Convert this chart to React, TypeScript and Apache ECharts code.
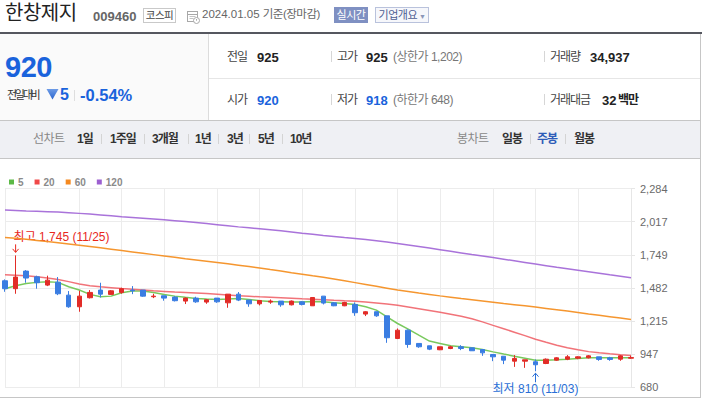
import React, { useEffect, useRef } from 'react';
import * as echarts from 'echarts';

// ---------- data ----------
const dates = [
  '2022.11.18','2022.11.25','2022.12.02','2022.12.09','2022.12.16','2022.12.23','2022.12.30',
  '2023.01.06','2023.01.13','2023.01.20','2023.01.27','2023.02.03','2023.02.10','2023.02.17','2023.02.24',
  '2023.03.03','2023.03.10','2023.03.17','2023.03.24','2023.03.31','2023.04.07','2023.04.14','2023.04.21','2023.04.28',
  '2023.05.05','2023.05.12','2023.05.19','2023.05.26','2023.06.02','2023.06.09','2023.06.16','2023.06.23','2023.06.30',
  '2023.07.07','2023.07.14','2023.07.21','2023.07.28','2023.08.04','2023.08.11','2023.08.18','2023.08.25',
  '2023.09.01','2023.09.08','2023.09.15','2023.09.22','2023.09.29','2023.10.06','2023.10.13','2023.10.20','2023.10.27',
  '2023.11.03','2023.11.10','2023.11.17','2023.11.24','2023.12.01','2023.12.08','2023.12.15','2023.12.22','2023.12.29',
  '2024.01.05',
];
const opens = [1540,1476,1618,1572,1505,1529,1424,1330,1403,1465,1430,1446,1465,1465,1411,1419,1408,1376,1400,1368,1400,1362,1432,1384,1354,1368,1376,1346,1370,1338,1416,1362,1338,1349,1271,1290,1257,1074,1141,1034,1015,983,993,1007,999,985,945,931,891,891,886,872,899,907,915,918,926,918,907,915];
const closes = [1476,1570,1562,1524,1545,1435,1330,1416,1446,1432,1459,1476,1459,1416,1416,1400,1379,1400,1370,1387,1370,1432,1384,1354,1381,1376,1346,1376,1349,1405,1360,1338,1365,1282,1290,1257,1080,1141,1026,1007,988,1007,1007,993,975,958,926,899,913,902,862,907,918,926,926,934,905,905,934,920];
const lows = [1451,1435,1524,1476,1497,1424,1322,1290,1397,1405,1427,1435,1432,1411,1400,1379,1373,1352,1362,1354,1362,1322,1376,1330,1341,1354,1330,1341,1341,1338,1349,1335,1335,1257,1255,1249,1039,1069,999,999,980,980,988,980,975,934,891,867,845,837,810,867,894,899,907,913,894,894,894,912];
const highs = [1551,1745,1626,1581,1581,1570,1457,1459,1465,1524,1465,1484,1497,1465,1435,1419,1416,1405,1411,1392,1400,1432,1449,1384,1381,1389,1376,1381,1376,1405,1416,1368,1370,1365,1295,1290,1257,1155,1147,1034,1015,1007,1015,1020,999,985,945,931,940,902,905,913,923,940,931,940,926,926,940,934];

const ma5 = [1475,1500,1518,1527,1532,1527,1492,1465,1430,1411,1416,1443,1457,1457,1446,1430,1416,1406,1397,1392,1389,1392,1397,1389,1379,1373,1371,1368,1368,1373,1370,1362,1357,1349,1330,1303,1249,1195,1150,1101,1053,1034,1015,1007,999,985,966,948,931,915,899,899,902,907,913,918,918,918,918,918];
const ma20 = [1588,1585,1580,1572,1563,1551,1533,1514,1500,1491,1484,1477,1471,1465,1459,1454,1449,1445,1441,1437,1431,1425,1420,1415,1410,1406,1402,1398,1394,1391,1387,1382,1378,1375,1369,1361,1352,1343,1329,1315,1300,1285,1269,1253,1233,1208,1180,1153,1125,1097,1068,1043,1020,1000,983,968,958,950,943,937];
const ma60 = [1890,1883,1875,1866,1857,1847,1837,1827,1817,1806,1795,1784,1773,1762,1751,1740,1729,1718,1708,1698,1688,1677,1666,1655,1643,1630,1618,1605,1593,1580,1568,1555,1540,1525,1510,1495,1480,1465,1453,1441,1430,1418,1407,1396,1386,1376,1366,1356,1347,1338,1328,1317,1306,1295,1284,1272,1261,1250,1239,1228];
const ma120 = [2111,2108,2104,2101,2098,2095,2090,2084,2078,2071,2064,2057,2051,2045,2039,2032,2025,2018,2010,2002,1993,1984,1975,1967,1959,1951,1943,1934,1924,1915,1906,1898,1889,1881,1873,1863,1852,1840,1828,1816,1804,1791,1778,1765,1752,1740,1727,1714,1701,1688,1675,1662,1649,1637,1625,1613,1601,1588,1576,1564];

const yTicks = [680, 947.333, 1214.667, 1482, 1749.333, 2016.667, 2284];
const maNames = ['5', '20', '60', '120'];
const maColors = ['#72c654', '#ef5b62', '#f49024', '#a46bd8'];
const legendColors = ['#5cb946', '#f04848', '#f5891f', '#9c5fd0'];

const stockName = '한창제지';
const stockCode = '009460';
const market = '코스피';
const asOf = '2024.01.05';
const price = '920';
const diff = '5';
const diffPct = '-0.54%';
const infoRow1 = [
  { label: '전일', value: '925', blue: false, extra: '' },
  { label: '고가', value: '925', blue: false, extra: '(상한가 1,202)' },
  { label: '거래량', value: '34,937', blue: false, extra: '' },
];
const infoRow2 = [
  { label: '시가', value: '920', blue: true, extra: '' },
  { label: '저가', value: '918', blue: true, extra: '(하한가 648)' },
  { label: '거래대금', value: '32', blue: false, extra: '백만' },
];
const lineTabs = ['1일', '1주일', '3개월', '1년', '3년', '5년', '10년'];
const candleTabs = ['일봉', '주봉', '월봉'];

// ---------- helpers ----------
const FONT = '"Liberation Sans", Arial, "Noto Sans CJK KR", sans-serif';
const BLUE = '#1a63dc';

function T(props: any) {
  const { x, y, s = 12, c = '#333', b = false, ls = 0, children } = props;
  return (
    <div
      style={{
        position: 'absolute', left: x, top: y, transform: 'translateY(-50%)',
        fontSize: s, color: c, fontWeight: b ? 700 : 400, letterSpacing: ls,
        lineHeight: 1, whiteSpace: 'nowrap', fontFamily: FONT,
      }}
    >
      {children}
    </div>
  );
}

function V(props: any) {
  const { x, y, h = 10, c = '#d9d9d9' } = props;
  return <div style={{ position: 'absolute', left: x, top: y - h / 2, width: 1, height: h, background: c }} />;
}

function Chart() {
  const ref = useRef<HTMLDivElement>(null);
  useEffect(() => {
    if (!ref.current) return;
    const chart = echarts.init(ref.current, null, { renderer: 'svg' });
    const candle = dates.map((_, i) => [opens[i], closes[i], lows[i], highs[i]]);
    const maData = [ma5, ma20, ma60, ma120];
    const option: any = {
      animation: false,
      legend: {
        data: maNames,
        left: 4,
        top: 14,
        icon: 'rect',
        itemWidth: 5,
        itemHeight: 5,
        itemGap: 11,
        selectedMode: false,
        textStyle: { color: '#8a8a8a', fontSize: 10, fontWeight: 'bold', fontFamily: FONT, padding: [0, 0, 0, -1] },
      },
      color: legendColors,
      grid: { left: 5, right: 69, top: 30.6, bottom: 9.7 },
      xAxis: {
        type: 'category',
        data: dates,
        boundaryGap: false,
        axisLine: { show: false },
        axisTick: { show: false },
        axisLabel: { show: false },
        splitLine: {
          show: true,
          interval: (i: number) => {
            if (i === 0) return true;
            if (i < 4) return false;
            return dates[i].slice(5, 7) !== dates[i - 1].slice(5, 7);
          },
          lineStyle: { color: '#ececec', width: 1 },
        },
      },
      yAxis: {
        type: 'value',
        position: 'right',
        min: 680,
        max: 2284,
        scale: true,
        axisLine: { show: true, lineStyle: { color: '#e6e6e6' } },
        axisTick: { show: true, length: 4, lineStyle: { color: '#e6e6e6' }, customValues: yTicks },
        axisLabel: {
          customValues: yTicks,
          margin: 9,
          color: '#6a6a6a',
          fontSize: 11,
          fontFamily: FONT,
          formatter: (v: number) => Math.round(v).toLocaleString('en-US'),
        },
        splitLine: { show: true, lineStyle: { color: '#ececec', width: 1 } },
      },
      series: [
        ...maNames.map((n, k) => ({
          name: n,
          type: 'line',
          data: maData[k],
          symbol: 'none',
          silent: true,
          z: 2,
          itemStyle: { color: legendColors[k] },
          lineStyle: { color: maColors[k], width: 1.5, opacity: k === 1 ? 0.85 : 0.95 },
        })),
        {
          name: 'candle',
          type: 'candlestick',
          data: candle,
          barWidth: 5,
          clip: false,
          z: 3,
          itemStyle: {
            color: '#e22c27',
            color0: '#3a7de2',
            borderColor: '#e22c27',
            borderColor0: '#3a7de2',
            borderWidth: 1,
          },
        },
      ],
    };
    chart.setOption(option);

    // annotations for highest / lowest points
    let hi = 0, lo = 0;
    highs.forEach((v, i) => { if (v > highs[hi]) hi = i; });
    lows.forEach((v, i) => { if (v < lows[lo]) lo = i; });
    const md = (d: string) => d.slice(5, 7) + '/' + d.slice(8, 10);
    const [hx, hy] = chart.convertToPixel({ gridIndex: 0 }, [hi, highs[hi]]) as number[];
    const [lx, ly] = chart.convertToPixel({ gridIndex: 0 }, [lo, lows[lo]]) as number[];
    const RED = '#e8271c';
    const LB = '#2a6fd6';
    chart.setOption({
      graphic: [
        {
          type: 'text', x: hx - 2, y: hy - 18,
          style: { text: `최고 ${highs[hi].toLocaleString('en-US')} (${md(dates[hi])})`, fill: RED, fontSize: 12, fontFamily: FONT, verticalAlign: 'middle', align: 'left' },
        },
        { type: 'line', shape: { x1: hx, y1: hy - 11, x2: hx, y2: hy - 3 }, style: { stroke: RED, lineWidth: 1 } },
        { type: 'polyline', shape: { points: [[hx - 3, hy - 6.5], [hx, hy - 3], [hx + 3, hy - 6.5]] }, style: { stroke: RED, lineWidth: 1, fill: 'none' } },
        {
          type: 'text', x: lx, y: ly + 18,
          style: { text: `최저 ${lows[lo].toLocaleString('en-US')} (${md(dates[lo])})`, fill: LB, fontSize: 12, fontFamily: FONT, verticalAlign: 'middle', align: 'center' },
        },
        { type: 'line', shape: { x1: lx, y1: ly + 2, x2: lx, y2: ly + 11 }, style: { stroke: LB, lineWidth: 1 } },
        { type: 'polyline', shape: { points: [[lx - 3, ly + 5.5], [lx, ly + 2], [lx + 3, ly + 5.5]] }, style: { stroke: LB, lineWidth: 1, fill: 'none' } },
      ],
    });
    return () => chart.dispose();
  }, []);
  return <div ref={ref} style={{ position: 'absolute', left: 0, top: 158, width: 700, height: 239 }} />;
}

export default function App() {
  useEffect(() => {
    document.body.style.margin = '0';
  }, []);
  const sepXs = [101, 144, 188, 218, 249, 282];
  const tabXs = [77, 110, 152, 195, 227, 258, 290];
  const ctabXs = [502, 537, 574];
  return (
    <div style={{ position: 'relative', width: 702, height: 399, overflow: 'hidden', background: '#fff', fontFamily: FONT }}>
      {/* title row */}
      <T x={5} y={13} s={20} c="#222" ls={-0.5}>{stockName}</T>
      <T x={93} y={15.5} s={13} c="#666" b>{stockCode}</T>
      <div style={{ position: 'absolute', left: 143, top: 8, width: 31, height: 13, border: '1px solid #c9c9c9', fontSize: 10.5, color: '#444', lineHeight: '13px', textAlign: 'center', fontFamily: FONT, letterSpacing: -0.5 }}>{market}</div>
      <svg style={{ position: 'absolute', left: 187, top: 10 }} width={13} height={14} viewBox="0 0 13 14">
        <rect x={0.5} y={1.5} width={10} height={10} fill="none" stroke="#a8a8a8" />
        <line x1={0.5} y1={4.5} x2={10.5} y2={4.5} stroke="#a8a8a8" />
        <line x1={2.5} y1={6.5} x2={8.5} y2={6.5} stroke="#c4c4c4" />
        <line x1={2.5} y1={8.5} x2={6.5} y2={8.5} stroke="#c4c4c4" />
        <circle cx={9.5} cy={10.5} r={3} fill="#fff" stroke="#a8a8a8" />
        <line x1={9.5} y1={9} x2={9.5} y2={10.7} stroke="#a8a8a8" />
      </svg>
      <T x={202} y={15} s={11.5} c="#666">{asOf} <span style={{ letterSpacing: -0.5 }}>기준(장마감)</span></T>
      <div style={{ position: 'absolute', left: 334, top: 7, width: 34, height: 16, background: '#7f90c2', color: '#fff', fontSize: 11, lineHeight: '16px', textAlign: 'center', fontFamily: FONT, letterSpacing: -0.5 }}>실시간</div>
      <div style={{ position: 'absolute', left: 375, top: 7, width: 52, height: 14, border: '1px solid #b9c2dc', background: '#f6f7fb', color: '#4e5e92', fontSize: 11, lineHeight: '14px', textAlign: 'center', fontFamily: FONT, letterSpacing: -0.5 }}>기업개요<span style={{ fontSize: 7, color: '#8a96b8', marginLeft: 2 }}>▼</span></div>

      {/* dark rule */}
      <div style={{ position: 'absolute', left: 0, top: 32, width: 702, height: 2, background: '#55575f' }} />

      {/* price panel */}
      <div style={{ position: 'absolute', left: 0, top: 34, width: 208, height: 86, background: '#fafafa', borderRight: '1px solid #dcdcdc' }} />
      <T x={5} y={67} s={29} c={BLUE} b ls={-0.5}>{price}</T>
      <T x={7} y={95} s={11} c="#333" ls={-2.3}>전일대비</T>
      <svg style={{ position: 'absolute', left: 46, top: 88 }} width={13} height={12} viewBox="0 0 13 12">
        <defs>
          <linearGradient id="tg" x1="0" y1="0" x2="0" y2="1">
            <stop offset="0" stopColor="#6d9be6" />
            <stop offset="1" stopColor="#2a66cf" />
          </linearGradient>
        </defs>
        <polygon points="0.5,1 12.5,1 6.5,11.5" fill="url(#tg)" />
      </svg>
      <T x={60} y={94.5} s={16} c={BLUE} b>{diff}</T>
      <V x={74} y={95} h={11} c="#dedede" />
      <T x={80} y={94.5} s={16.5} c={BLUE} b>{diffPct}</T>

      {/* info table */}
      <div style={{ position: 'absolute', left: 209, top: 78, width: 491, height: 1, background: '#e6e6e6' }} />
      {[infoRow1, infoRow2].map((row, r) => {
        const y = r === 0 ? 56.5 : 99.5;
        const lx = [227, 337, 550];
        const vx = [257, 366, 590];
        return row.map((it, k) => (
          <React.Fragment key={r + '-' + k}>
            {k > 0 && <V x={k === 1 ? 331 : 544} y={y} h={11} c="#d6d6d6" />}
            <T x={lx[k]} y={y} s={12} c="#444" ls={-1}>{it.label}</T>
            <T x={k === 2 && r === 1 ? 602 : vx[k]} y={y} s={13} c={it.blue ? BLUE : '#222'} b>{it.value}</T>
            {it.extra && k !== 2 && <T x={393} y={y} s={12} c="#777" ls={-0.5}>{it.extra}</T>}
            {it.extra && k === 2 && <T x={618} y={y} s={12} c="#222" b ls={-1}>{it.extra}</T>}
          </React.Fragment>
        ));
      })}

      {/* tabs bar */}
      <div style={{ position: 'absolute', left: 0, top: 120, width: 700, height: 37, background: '#eff0f4', borderTop: '1px solid #c6c6c6', borderBottom: '1px solid #c6c6c6' }} />
      <T x={33} y={138.5} s={12} c="#888" ls={-0.5}>선차트</T>
      {lineTabs.map((t, i) => (
        <T key={t} x={tabXs[i]} y={138.5} s={12} c="#333" b ls={-1}>{t}</T>
      ))}
      {sepXs.map((x) => <V key={x} x={x} y={139} h={10} c="#d4d4d4" />)}
      <T x={457} y={138.5} s={12} c="#888" ls={-0.5}>봉차트</T>
      {candleTabs.map((t, i) => (
        <T key={t} x={ctabXs[i]} y={138.5} s={12} c={i === 1 ? '#2e5cb8' : '#333'} b ls={-1}>{t}</T>
      ))}
      <V x={530} y={139} h={10} c="#d4d4d4" />
      <V x={565} y={139} h={10} c="#d4d4d4" />

      {/* frame */}
      <div style={{ position: 'absolute', left: 700, top: 34, width: 1, height: 364, background: '#c6c6c6' }} />
      <div style={{ position: 'absolute', left: 0, top: 397, width: 701, height: 1, background: '#c6c6c6' }} />

      <Chart />
    </div>
  );
}
